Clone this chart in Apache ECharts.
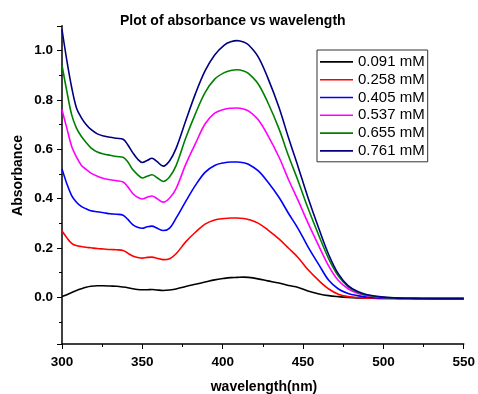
<!DOCTYPE html>
<html>
<head>
<meta charset="utf-8">
<script src="https://cdn.jsdelivr.net/npm/echarts@6/dist/echarts.min.js"></script>
<style>
html,body{margin:0;padding:0;background:#fff;}
#chart{width:478px;height:394px;}
</style>
</head>
<body>
<div id="chart"></div>
<script>
// Wavelength grid (nm)
var wavelengths = [300,303,306,309,312,315,318,322,326,330,334,338,341,344,347,350,353,356,359,363,367,371,377,383,389,395,401,405,409,413,416,422,428,435,441,447,453,460,466,472,478,484,490,500,510,520,535,550];

var seriesNames = ['0.091 mM','0.258 mM','0.405 mM','0.537 mM','0.655 mM','0.761 mM'];

var abs0091 = [0.003,0.010,0.019,0.027,0.034,0.040,0.044,0.046,0.046,0.045,0.044,0.041,0.038,0.034,0.031,0.030,0.030,0.031,0.029,0.027,0.029,0.033,0.043,0.052,0.061,0.070,0.076,0.079,0.080,0.081,0.080,0.074,0.066,0.057,0.047,0.039,0.025,0.013,0.006,0.002,-0.001,-0.003,-0.004,-0.005,-0.005,-0.006,-0.006,-0.006];
var abs0258 = [0.268,0.241,0.218,0.209,0.205,0.202,0.200,0.197,0.195,0.193,0.192,0.189,0.178,0.167,0.161,0.158,0.161,0.162,0.158,0.152,0.156,0.176,0.224,0.263,0.296,0.313,0.319,0.321,0.321,0.319,0.315,0.300,0.273,0.236,0.198,0.160,0.112,0.066,0.033,0.012,0.002,-0.002,-0.004,-0.005,-0.006,-0.006,-0.006,-0.006];
var abs0405 = [0.520,0.460,0.412,0.385,0.368,0.358,0.350,0.346,0.342,0.338,0.336,0.332,0.315,0.294,0.283,0.279,0.285,0.288,0.280,0.270,0.280,0.320,0.388,0.453,0.506,0.534,0.545,0.548,0.548,0.545,0.539,0.513,0.468,0.405,0.339,0.277,0.205,0.130,0.068,0.033,0.015,0.006,0.000,-0.004,-0.005,-0.006,-0.006,-0.006];
var abs0537 = [0.760,0.685,0.612,0.568,0.535,0.518,0.503,0.490,0.481,0.476,0.472,0.467,0.447,0.420,0.405,0.398,0.405,0.410,0.400,0.385,0.402,0.440,0.538,0.622,0.702,0.746,0.762,0.766,0.767,0.763,0.755,0.720,0.657,0.568,0.476,0.391,0.302,0.205,0.126,0.067,0.034,0.016,0.006,-0.002,-0.005,-0.006,-0.006,-0.006];
var abs0655 = [0.940,0.835,0.740,0.685,0.652,0.627,0.605,0.588,0.580,0.575,0.570,0.567,0.548,0.517,0.497,0.483,0.490,0.496,0.485,0.469,0.488,0.533,0.645,0.743,0.829,0.884,0.910,0.919,0.922,0.917,0.907,0.865,0.790,0.683,0.572,0.470,0.362,0.247,0.155,0.085,0.043,0.020,0.008,-0.001,-0.004,-0.005,-0.006,-0.006];
var abs0761 = [1.085,0.960,0.851,0.767,0.728,0.700,0.680,0.662,0.653,0.648,0.644,0.640,0.617,0.586,0.560,0.546,0.554,0.563,0.550,0.531,0.553,0.603,0.715,0.824,0.917,0.982,1.022,1.035,1.040,1.034,1.023,0.975,0.890,0.770,0.645,0.527,0.405,0.275,0.172,0.094,0.047,0.023,0.010,0.000,-0.004,-0.005,-0.006,-0.006];

var seriesValues = [abs0091, abs0258, abs0405, abs0537, abs0655, abs0761];
var seriesColors = ['#000000','#ff0000','#0000ff','#ff00ff','#008000','#000080'];

var FONT = '"Liberation Sans", Arial, sans-serif';

function pairs(vals){
  return wavelengths.map(function(w,i){ return [w, vals[i]]; });
}

var series = seriesNames.map(function(name, k){
  return {
    name: name,
    type: 'line',
    data: pairs(seriesValues[k]),
    smooth: 0.35,
    symbol: 'none',
    showSymbol: false,
    lineStyle: {color: seriesColors[k], width: 1.6},
    itemStyle: {color: seriesColors[k]},
    emphasis: {disabled: true},
    z: 2 + k
  };
});

var chart = echarts.init(document.getElementById('chart'), null, {renderer: 'canvas'});
chart.setOption({
  animation: false,
  backgroundColor: '#ffffff',
  title: {
    text: 'Plot of absorbance vs wavelength',
    left: 120, top: 14,
    padding: 0,
    textStyle: {fontFamily: FONT, fontWeight: 'bold', fontSize: 14, color: '#000'}
  },
  grid: {left: 62, right: 12, top: 25.8, bottom: 50, containLabel: false},
  legend: {
    orient: 'vertical',
    left: 317, top: 50,
    padding: [3, 3, 2, 3],
    itemGap: 0,
    itemWidth: 33,
    itemHeight: 1.6,
    icon: 'rect',
    borderColor: '#333',
    borderWidth: 1,
    borderRadius: 0,
    backgroundColor: '#fff',
    data: seriesNames,
    textStyle: {fontFamily: FONT, fontSize: 15, color: '#000', lineHeight: 17.8, padding: [0,0,0,0]}
  },
  xAxis: {
    type: 'value',
    min: 300, max: 550, interval: 50,
    axisLine: {show: true, onZero: false, lineStyle: {color: '#000', width: 1.5}},
    axisTick: {show: true, length: 5, lineStyle: {color: '#000', width: 1}},
    minorTick: {show: true, splitNumber: 2, length: 3, lineStyle: {color: '#000', width: 1}},
    splitLine: {show: false},
    axisLabel: {fontFamily: FONT, fontWeight: 'bold', fontSize: 13.5, color: '#000', margin: 11}
  },
  yAxis: {
    type: 'value',
    min: -0.19, max: 1.1, splitNumber: 6,
    axisLine: {show: true, lineStyle: {color: '#000', width: 1.5}},
    axisTick: {show: true, length: 5, lineStyle: {color: '#000', width: 1}},
    minorTick: {show: true, splitNumber: 2, length: 3, lineStyle: {color: '#000', width: 1}},
    splitLine: {show: false},
    axisLabel: {
      fontFamily: FONT, fontWeight: 'bold', fontSize: 13.5, color: '#000', margin: 9,
      formatter: function(v){
        var t = v * 10;
        var r = Math.round(t);
        if (Math.abs(t - r) > 1e-6) return '';
        if (r < 0 || r > 10 || r % 2 !== 0) return '';
        return (r / 10).toFixed(1);
      }
    }
  },
  graphic: [
    {type: 'text', x: 18, y: 175.5, rotation: Math.PI / 2,
     style: {text: 'Absorbance', fontFamily: FONT, fontWeight: 'bold', fontSize: 14, fill: '#000', align: 'center', verticalAlign: 'middle'}},
    {type: 'text', x: 264, y: 387,
     style: {text: 'wavelength(nm)', fontFamily: FONT, fontWeight: 'bold', fontSize: 14, fill: '#000', align: 'center', verticalAlign: 'middle'}}
  ],
  series: series
});
</script>
</body>
</html>
